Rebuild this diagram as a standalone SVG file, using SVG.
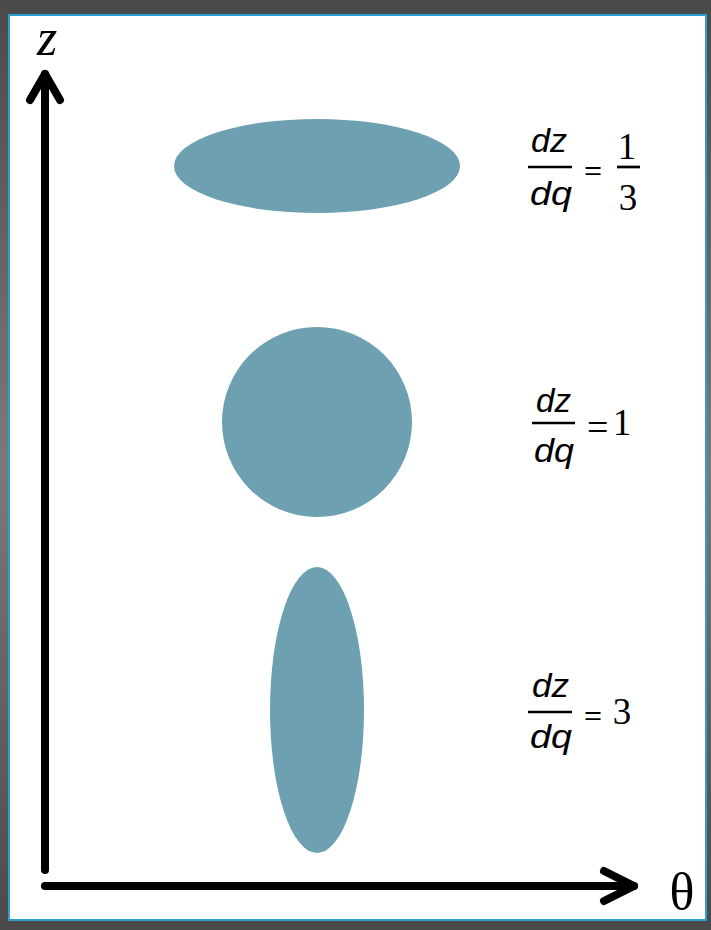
<svg xmlns="http://www.w3.org/2000/svg" width="711" height="930" viewBox="0 0 711 930">
<defs>
<style>
.blob{fill:#6da0b0}
.ax{stroke:#000;stroke-width:8;fill:none;stroke-linecap:round;stroke-linejoin:round}
.bar{stroke:#000;stroke-width:2.7}
.sym{font-family:"Liberation Sans",Arial,sans-serif;font-style:italic;font-size:33px}
.num{font-family:"Liberation Serif","Times New Roman",serif;font-size:37px}
.eqs{font-family:"Liberation Sans",Arial,sans-serif;font-size:26px}
.eq{font-family:"Liberation Serif","Times New Roman",serif;font-size:38px}
</style>
<linearGradient id="gv" x1="0" y1="0" x2="0" y2="1">
<stop offset="0" stop-color="#4a4a4a"/><stop offset="0.5" stop-color="#7a7a7a"/><stop offset="1" stop-color="#4a4a4a"/>
</linearGradient>
</defs>
<rect x="0" y="0" width="711" height="930" fill="url(#gv)"/>
<rect x="9" y="15" width="697" height="905" fill="#fff" stroke="#2a9fcf" stroke-width="2"/>
<g id="axes">
<line class="ax" x1="45" y1="870" x2="45" y2="74"/>
<polyline class="ax" points="30,100 45,74 60,100"/>
<line class="ax" x1="45" y1="886" x2="634" y2="886"/>
<polyline class="ax" points="604,871 634,886 604,901"/>
<text x="47" y="55" text-anchor="middle" font-family="Liberation Serif,serif" font-style="italic" font-size="52">z</text>
<text x="682" y="909" text-anchor="middle" font-family="Liberation Serif,serif" font-size="52">θ</text>
</g>
<g id="ellipse-top"><ellipse class="blob" cx="317" cy="166" rx="143" ry="47"/></g>
<g id="circle-mid"><circle class="blob" cx="317" cy="422" r="95"/></g>
<g id="ellipse-bottom"><ellipse class="blob" cx="317" cy="710" rx="47" ry="143"/></g>
<g id="label-top">
<text class="sym" x="531" y="152" textLength="36" lengthAdjust="spacingAndGlyphs">dz</text>
<line class="bar" x1="528" y1="167" x2="572" y2="167"/>
<text class="sym" x="530" y="205" textLength="42" lengthAdjust="spacingAndGlyphs">dq</text>
<text class="eqs" x="584" y="179" textLength="18" lengthAdjust="spacingAndGlyphs">=</text>
<text class="num" x="627" y="159" text-anchor="middle">1</text>
<line class="bar" x1="617" y1="167" x2="640" y2="167"/>
<text class="num" x="628" y="210" text-anchor="middle">3</text>
</g>
<g id="label-mid">
<text class="sym" x="536" y="412" textLength="35" lengthAdjust="spacingAndGlyphs">dz</text>
<line class="bar" x1="532" y1="423" x2="575" y2="423"/>
<text class="sym" x="534" y="462" textLength="40" lengthAdjust="spacingAndGlyphs">dq</text>
<text class="eq" x="587" y="440">=</text>
<text class="num" x="622" y="435" text-anchor="middle">1</text>
</g>
<g id="label-bottom">
<text class="sym" x="532" y="697" textLength="37" lengthAdjust="spacingAndGlyphs">dz</text>
<line class="bar" x1="528" y1="712" x2="572" y2="712"/>
<text class="sym" x="530" y="748" textLength="42" lengthAdjust="spacingAndGlyphs">dq</text>
<text class="eqs" x="584" y="724" textLength="18" lengthAdjust="spacingAndGlyphs">=</text>
<text class="num" x="622" y="724" text-anchor="middle">3</text>
</g>
</svg>
